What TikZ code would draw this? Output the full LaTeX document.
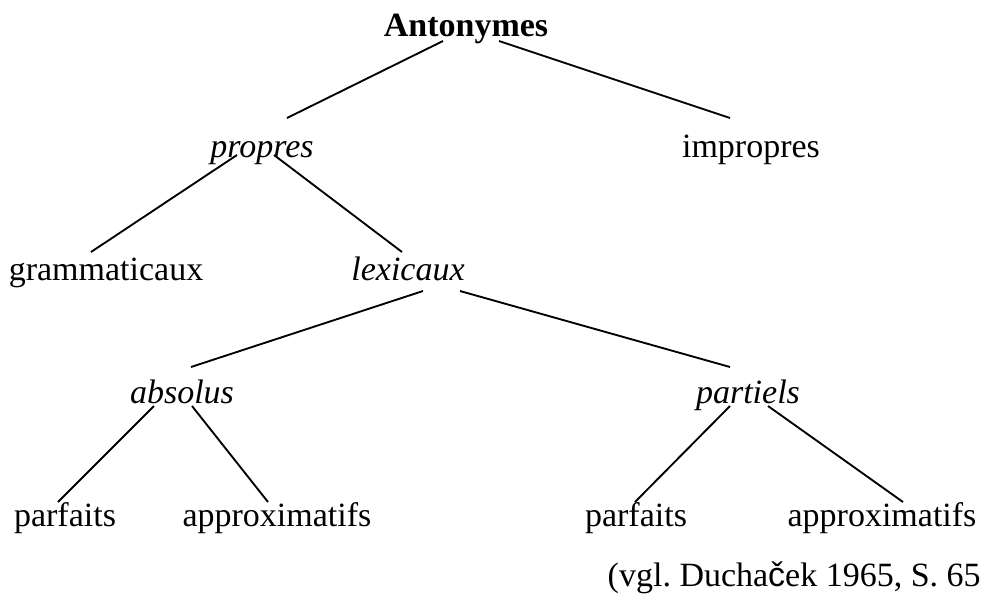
\documentclass[tikz,border=0pt]{standalone}
\usepackage{fontspec}
\setmainfont{Liberation Serif}
\newfontfamily\czfont{Liberation Sans}
\usepackage{tikz}
\frenchspacing

\begin{document}
\begin{tikzpicture}[x=0.75pt,y=0.75pt,yscale=-1,xscale=1,
  lbl/.style={anchor=base,inner sep=0.75pt,font=\fontsize{25.5}{30}\selectfont},
  branch/.style={line width=1.4pt}]
\useasboundingbox (0,0) rectangle (984,597);
\node [lbl,font=\fontsize{25.5}{30}\selectfont\bfseries] (ant) at (466,36) {Antonymes};
\node [lbl,font=\fontsize{25.5}{30}\selectfont\itshape] (prop) at (262,157) {propres};
\node [lbl] (improp) at (751,157) {impropres};
\node [lbl] (gram) at (106,280) {grammaticaux};
\node [lbl,font=\fontsize{25.5}{30}\selectfont\itshape] (lex) at (408,280) {lexicaux};
\node [lbl,font=\fontsize{25.5}{30}\selectfont\itshape] (abs) at (182,403) {absolus};
\node [lbl,font=\fontsize{25.5}{30}\selectfont\itshape] (part) at (748,403) {partiels};
\node [lbl] (parfA) at (65,526) {parfaits};
\node [lbl] (approxA) at (277,526) {approximatifs};
\node [lbl] (parfB) at (636,526) {parfaits};
\node [lbl] (approxB) at (882,526) {approximatifs};
\node [lbl,anchor=base east] (cite) at (982,586) {(vgl. Ducha{\czfont č}ek 1965, S. 65};
\draw [branch] ([shift={(-23,5)}]ant.base) -- ([shift={(25,-39)}]prop.base) ;
\draw [branch] ([shift={(33,5)}]ant.base) -- ([shift={(-21,-39)}]improp.base) ;
\draw [branch] ([shift={(-25,-2)}]prop.base) -- ([shift={(-15,-28)}]gram.base) ;
\draw [branch] ([shift={(12,-2)}]prop.base) -- ([shift={(-6,-28)}]lex.base) ;
\draw [branch] ([shift={(15,11)}]lex.base) -- ([shift={(9,-36)}]abs.base) ;
\draw [branch] ([shift={(52,11)}]lex.base) -- ([shift={(-18,-36)}]part.base) ;
\draw [branch] ([shift={(-28,3)}]abs.base) -- ([shift={(-7,-24)}]parfA.base) ;
\draw [branch] ([shift={(10,3)}]abs.base) -- ([shift={(-9,-24)}]approxA.base) ;
\draw [branch] ([shift={(-18,3)}]part.base) -- ([shift={(-1,-24)}]parfB.base) ;
\draw [branch] ([shift={(20,3)}]part.base) -- ([shift={(21,-24)}]approxB.base) ;
\end{tikzpicture}
\end{document}
